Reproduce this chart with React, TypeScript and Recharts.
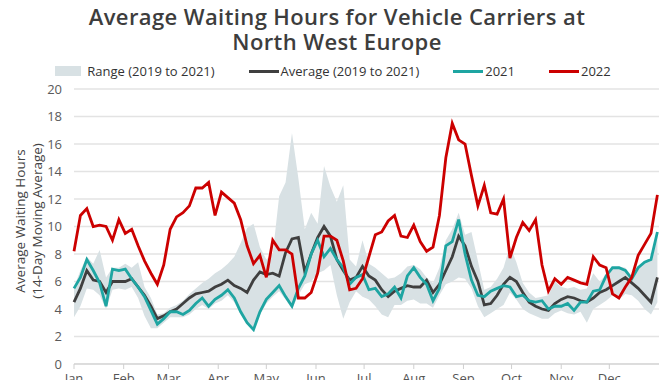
import { ComposedChart, Area, Line, XAxis, YAxis, CartesianGrid } from "recharts";

// day of year, sampled every 4 days
const days = [
  0, 4, 8, 12, 16, 20, 24, 28, 32, 36, 40, 44, 48, 52, 56, 60, 64, 68, 72, 76,
  80, 84, 88, 92, 96, 100, 104, 108, 112, 116, 120, 124, 128, 132, 136, 140, 144, 148, 152, 156,
  160, 164, 168, 172, 176, 180, 184, 188, 192, 196, 200, 204, 208, 212, 216, 220, 224, 228, 232, 236,
  240, 244, 248, 252, 256, 260, 264, 268, 272, 276, 280, 284, 288, 292, 296, 300, 304, 308, 312, 316,
  320, 324, 328, 332, 336, 340, 344, 348, 352, 356, 360, 364,
];

const rangeLow = [
  3.4, 4.2, 5.5, 5.4, 5.0, 4.0, 5.4, 5.5, 5.4, 5.6,
  4.8, 3.5, 2.6, 2.6, 3.0, 3.4, 3.4, 3.4, 3.6, 4.0,
  4.3, 4.0, 4.4, 4.6, 5.0, 4.5, 3.6, 2.9, 2.4, 3.6,
  4.4, 4.9, 5.3, 4.7, 4.0, 5.0, 5.8, 6.0, 6.6, 6.8,
  7.2, 5.0, 3.3, 4.5, 5.3, 4.9, 4.7, 4.2, 3.6, 3.4,
  4.3, 4.3, 4.6, 4.7, 4.4, 4.4, 4.1, 5.0, 5.8, 6.0,
  6.3, 6.2, 5.5, 4.2, 3.4, 3.7, 4.0, 4.3, 5.2, 4.7,
  4.0, 3.7, 3.5, 3.3, 3.3, 3.7, 3.9, 3.7, 3.6, 3.8,
  3.0, 4.0, 4.3, 4.6, 5.0, 4.7, 5.1, 5.0, 4.6, 4.0,
  3.6, 4.5,
];

const rangeHigh = [
  5.6, 6.8, 7.8, 7.3, 8.3, 6.3, 7.0, 7.0, 7.3, 7.0,
  7.4, 5.6, 4.8, 3.6, 3.7, 4.1, 4.3, 4.6, 5.1, 5.5,
  5.9, 6.2, 6.6, 6.9, 7.3, 7.8, 8.8, 9.9, 10.2, 8.5,
  7.6, 8.0, 12.2, 13.2, 16.8, 13.5, 9.8, 11.0, 10.2, 14.4,
  12.9, 11.8, 13.0, 7.6, 7.1, 9.0, 7.3, 7.0, 6.6, 6.2,
  6.3, 6.6, 7.1, 7.2, 6.9, 6.3, 5.9, 7.0, 9.0, 9.8,
  11.0, 9.4, 9.6, 7.5, 5.4, 5.6, 6.2, 7.0, 8.6, 7.4,
  5.9, 5.2, 4.8, 4.9, 5.0, 6.0, 5.6, 5.5, 5.6, 5.4,
  5.5, 6.6, 6.0, 6.5, 7.0, 7.1, 7.0, 6.4, 7.1, 7.5,
  7.7, 9.6,
];

const average = [
  4.5, 5.5, 6.8, 6.1, 6.0, 5.2, 6.0, 6.0, 6.0, 6.2,
  5.6, 5.0, 4.2, 3.3, 3.5, 3.8, 4.0, 4.4, 4.8, 5.1,
  5.2, 5.3, 5.6, 5.8, 6.1, 5.7, 5.5, 5.2, 6.1, 6.7,
  6.5, 6.6, 6.4, 8.1, 9.1, 9.2, 6.7, 8.0, 9.2, 10.0,
  9.3, 7.6, 6.8, 6.1, 6.3, 7.1, 6.4, 6.1, 5.4, 4.9,
  5.3, 5.5, 5.7, 5.6, 5.6, 6.1, 5.2, 5.8, 6.8, 7.8,
  9.3, 8.6, 7.1, 6.0, 4.3, 4.4, 5.0, 5.8, 6.3, 6.0,
  5.2, 4.5, 4.2, 4.0, 3.9, 4.4, 4.7, 4.9, 4.8, 4.6,
  4.5, 4.8, 5.2, 5.4, 5.7, 6.0, 6.3, 5.9, 5.5, 5.0,
  4.5, 6.3,
];

const values2021 = [
  5.5, 6.3, 7.6, 6.8, 5.9, 4.2, 6.9, 6.8, 6.9, 6.2,
  5.6, 4.9, 3.9, 2.9, 3.3, 3.8, 3.8, 3.6, 3.9, 4.4,
  4.8, 4.2, 4.7, 5.0, 5.4, 4.8, 3.8, 3.0, 2.5, 3.8,
  4.7, 5.2, 5.7, 4.9, 4.2, 5.5, 6.4, 8.0, 9.0, 7.8,
  8.4, 7.6, 7.0, 5.8, 6.3, 6.5, 5.4, 5.5, 4.9, 5.1,
  5.6, 4.8, 6.4, 7.0, 6.3, 5.8, 4.6, 5.5, 8.6, 8.9,
  10.5, 8.0, 6.1, 5.0, 4.9, 5.3, 5.5, 5.7, 5.6, 4.9,
  5.0, 4.6, 4.5, 4.6, 4.0, 4.2, 4.2, 4.4, 3.9, 4.5,
  4.5, 5.3, 5.4, 6.4, 7.0, 7.0, 6.8, 6.2, 7.0, 7.4,
  7.6, 9.6,
];

const values2022 = [
  8.2, 10.8, 11.3, 10.0, 10.1, 10.0, 9.0, 10.5, 9.5, 9.8,
  8.6, 7.5, 6.6, 5.8, 7.2, 9.8, 10.7, 11.0, 11.5, 12.8,
  12.8, 13.2, 10.8, 12.5, 12.1, 11.7, 10.5, 8.6, 7.3, 7.9,
  6.3, 9.0, 8.3, 8.3, 8.0, 4.8, 4.8, 5.2, 6.6, 9.3,
  9.3, 9.0, 7.5, 5.4, 5.5, 6.2, 7.8, 9.4, 9.6, 10.4,
  10.8, 9.3, 9.2, 10.1, 8.9, 8.2, 8.5, 10.8, 15.0, 17.5,
  16.3, 16.0, 13.7, 11.5, 13.0, 11.0, 10.9, 12.0, 7.7, 9.2,
  10.3, 9.7, 10.5, 7.2, 5.3, 6.2, 5.8, 6.3, 6.1, 5.9,
  5.8, 7.8, 7.2, 7.0, 5.1, 4.8, 5.6, 6.3, 7.9, 8.7,
  9.5, 12.3,
];

const monthStarts = [0, 31, 59, 90, 120, 151, 181, 212, 243, 273, 304, 334];
const monthLabels = ["Jan", "Feb", "Mar", "Apr", "May", "Jun", "Jul", "Aug", "Sep", "Oct", "Nov", "Dec"];
const yTicks = [0, 2, 4, 6, 8, 10, 12, 14, 16, 18, 20];
const titleLines = ["Average Waiting Hours for Vehicle Carriers at", "North West Europe"];

const data = days.map((day, i) => ({
  day,
  range: [rangeLow[i], rangeHigh[i]],
  avg: average[i],
  y2021: values2021[i],
  y2022: values2022[i],
}));

const FONT = "'Open Sans', sans-serif";
const BAND = "#d8e1e4";
const AVG = "#3f3f3f";
const TEAL = "#1ea5a2";
const RED = "#cc0000";

const legendItems = [
  { label: "Range (2019 to 2021)", color: BAND, box: true },
  { label: "Average (2019 to 2021)", color: AVG, box: false },
  { label: "2021", color: TEAL, box: false },
  { label: "2022", color: RED, box: false },
];

function YAxisTitle() {
  return (
    <g fill="#444" fontFamily={FONT} fontSize={13.5}>
      <text transform="translate(20, 221) rotate(-90)" textAnchor="middle" dominantBaseline="central">
        Average Waiting Hours
      </text>
      <text transform="translate(37, 221) rotate(-90)" textAnchor="middle" dominantBaseline="central">
        (14-Day Moving Average)
      </text>
    </g>
  );
}

export default function App() {
  return (
    <div style={{ position: "absolute", left: 0, top: 0, width: 670, height: 380, background: "#fff", overflow: "hidden" }}>
      {titleLines.map((line, i) => (
        <div
          key={line}
          style={{
            position: "absolute",
            top: 4 + i * 25,
            left: 2,
            width: 670,
            height: 25,
            textAlign: "center",
            fontFamily: FONT,
            fontWeight: 600,
            fontSize: 22,
            letterSpacing: 0.4,
            lineHeight: "25px",
            color: "#3d3d3d",
          }}
        >
          {line}
        </div>
      ))}
      <div
        style={{
          position: "absolute",
          top: 62,
          left: -2,
          width: 670,
          display: "flex",
          justifyContent: "center",
          alignItems: "center",
          gap: 34,
          fontFamily: FONT,
          fontSize: 13,
          color: "#333",
        }}
      >
        {legendItems.map((it) => (
          <div key={it.label} style={{ display: "flex", alignItems: "center" }}>
            {it.box ? (
              <span style={{ width: 26, height: 10, background: it.color, marginRight: 6 }} />
            ) : (
              <span style={{ width: 30, height: 3, background: it.color, marginRight: 2 }} />
            )}
            <span>{it.label}</span>
          </div>
        ))}
      </div>
      <div style={{ position: "absolute", left: 0, top: 0 }}>
        <ComposedChart width={670} height={380} data={data} margin={{ top: 89, right: 11, bottom: 0, left: 0 }}>
          <CartesianGrid vertical={false} stroke="#e3e3e3" strokeWidth={1.5} />
          <XAxis
            dataKey="day"
            type="number"
            domain={[0, 365]}
            ticks={monthStarts}
            tickFormatter={(v: number) => monthLabels[monthStarts.indexOf(v)]}
            height={16}
            stroke="#cfcfcf"
            tickSize={5}
            tickMargin={5}
            tick={{ fill: "#555", fontSize: 13, fontFamily: FONT }}
            interval={0}
          />
          <YAxis
            domain={[0, 20]}
            ticks={yTicks}
            width={74}
            axisLine={false}
            tickLine={false}
            tickMargin={6}
            tick={{ fill: "#5a5a5a", fontSize: 13, fontFamily: FONT }}
            label={<YAxisTitle />}
          />
          <Area
            dataKey="range"
            type="linear"
            fill={BAND}
            fillOpacity={1}
            stroke="none"
            isAnimationActive={false}
          />
          <Line dataKey="avg" type="linear" stroke={AVG} strokeWidth={2.8} dot={false} isAnimationActive={false} />
          <Line dataKey="y2021" type="linear" stroke={TEAL} strokeWidth={2.8} dot={false} isAnimationActive={false} />
          <Line dataKey="y2022" type="linear" stroke={RED} strokeWidth={2.8} dot={false} isAnimationActive={false} />
        </ComposedChart>
      </div>
    </div>
  );
}
